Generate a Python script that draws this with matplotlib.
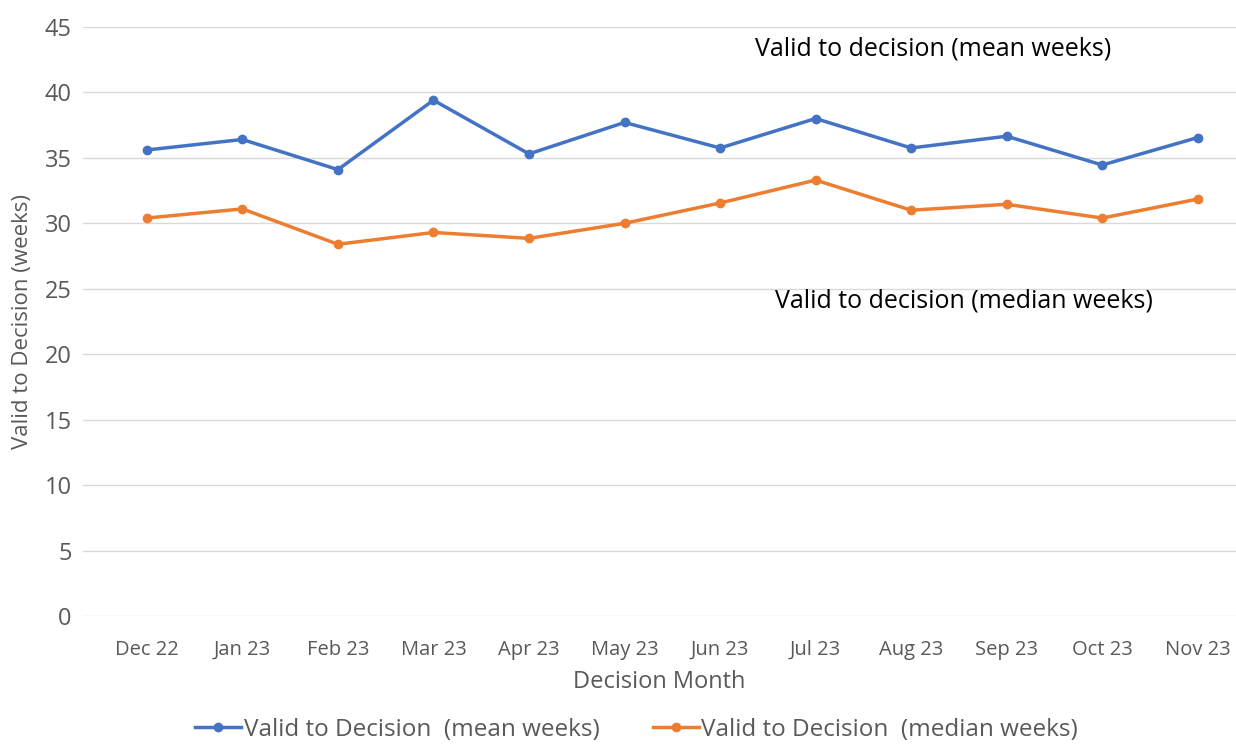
import matplotlib.pyplot as plt

months = ["Dec 22", "Jan 23", "Feb 23", "Mar 23", "Apr 23", "May 23",
          "Jun 23", "Jul 23", "Aug 23", "Sep 23", "Oct 23", "Nov 23"]
mean_weeks = [35.6, 36.4, 34.1, 39.4, 35.3, 37.7, 35.75, 38.0, 35.75, 36.65, 34.45, 36.55]
median_weeks = [30.4, 31.1, 28.4, 29.3, 28.85, 30.0, 31.55, 33.3, 31.0, 31.45, 30.4, 31.85]

plt.rcParams['font.family'] = ['Open Sans', 'DejaVu Sans']
gray = "#595959"

fig = plt.figure(figsize=(12.36, 7.46), dpi=100)
ax = fig.add_axes([0.067, 0.174, 0.933, 0.79])

x = list(range(len(months)))
ax.plot(x, mean_weeks, color="#4472C4", lw=2.5, marker="o", ms=6,
        label="Valid to Decision  (mean weeks)")
ax.plot(x, median_weeks, color="#ED7D31", lw=2.5, marker="o", ms=6,
        label="Valid to Decision  (median weeks)")

ax.set_ylim(0, 45)
ax.set_yticks(range(0, 46, 5))
ax.set_xlim(-0.67, 11.4)
ax.set_xticks(x)
ax.set_xticklabels(months)
ax.grid(axis="y", color="#D9D9D9", lw=1)
ax.set_axisbelow(True)
for s in ax.spines.values():
    s.set_visible(False)
ax.tick_params(length=0, colors=gray)
ax.tick_params(axis="y", labelsize=17, pad=8)
ax.tick_params(axis="x", labelsize=14.5, pad=17)

ax.set_ylabel("Valid to Decision (weeks)", fontsize=16, color=gray, labelpad=8)
ax.set_xlabel("Decision Month", fontsize=17, color=gray, labelpad=7)

ax.text(6.37, 43.3, "Valid to decision (mean weeks)", fontsize=18, color="black", va="center")
ax.text(6.57, 24.1, "Valid to decision (median weeks)", fontsize=18, color="black", va="center")

fig.legend(loc="center", bbox_to_anchor=(0.515, 0.022), ncol=2, frameon=False,
           fontsize=17.5, labelcolor=gray, handlelength=1.9, handletextpad=0.1,
           columnspacing=2.2)

fig.savefig("out.png", dpi=100)
